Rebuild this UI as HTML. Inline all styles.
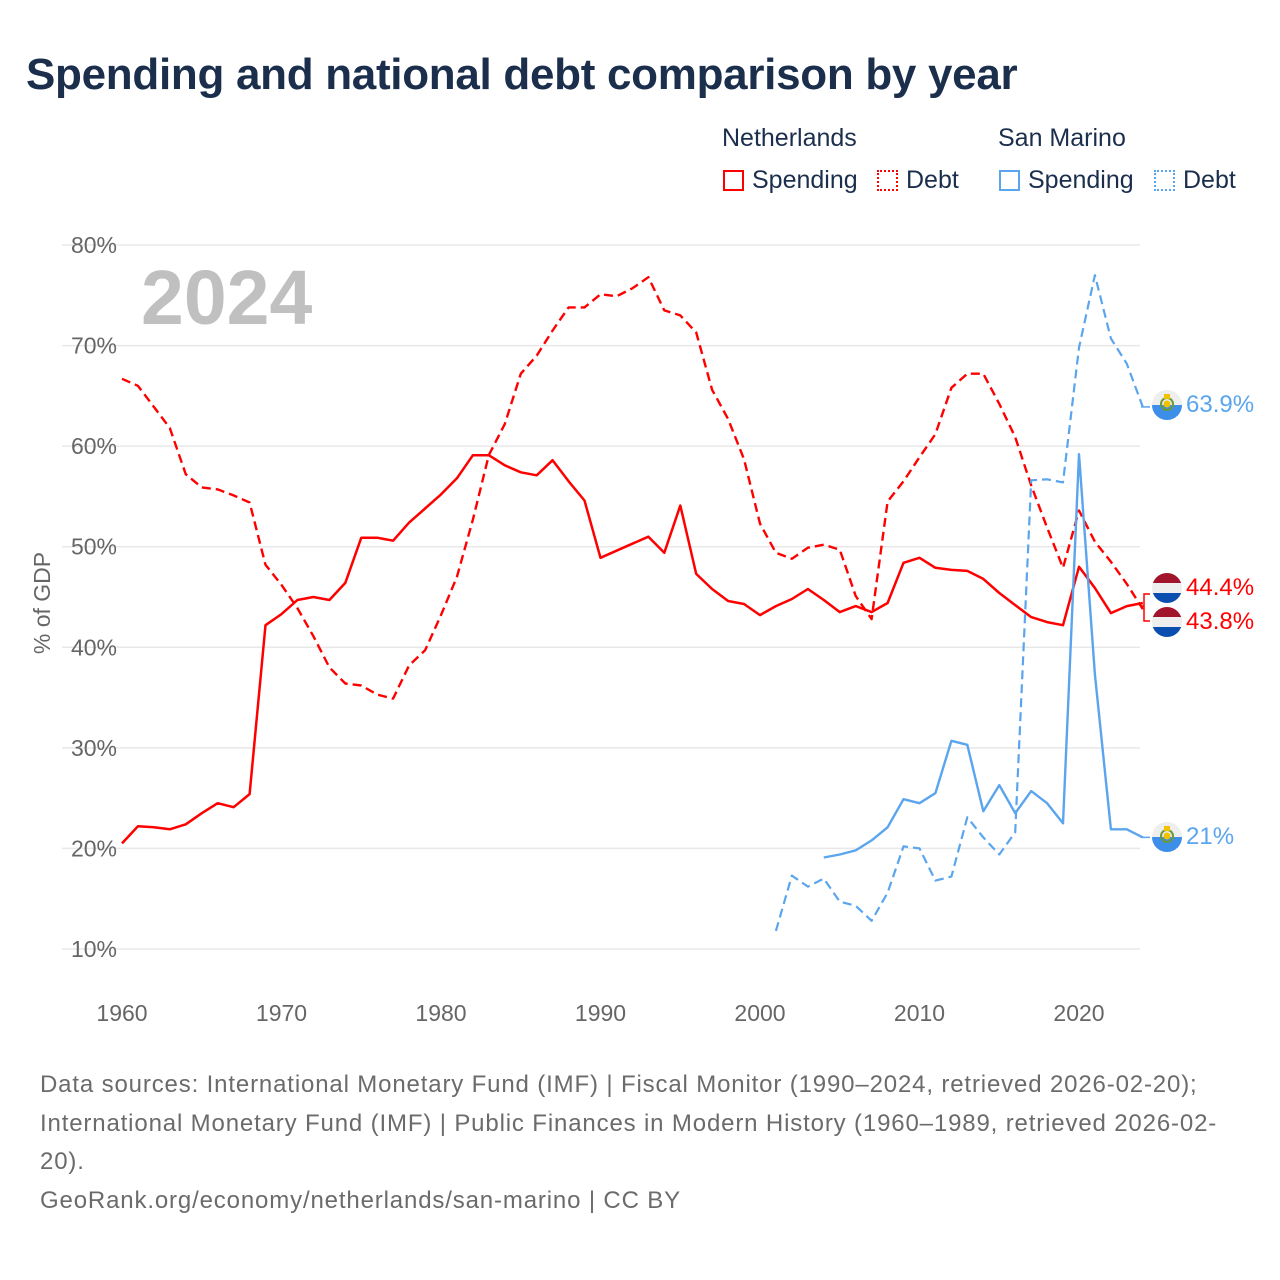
<!DOCTYPE html>
<html><head><meta charset="utf-8">
<style>
body{margin:0;background:#fff;width:1280px;height:1280px;overflow:hidden;font-family:"Liberation Sans",sans-serif}
#title{position:absolute;left:26px;top:50px;font-size:44px;font-weight:bold;color:#1b2f4d;letter-spacing:-0.3px}
.lg{position:absolute;font-size:25px;color:#1b2f4d}
.sw{position:absolute;width:21px;height:21px;box-sizing:border-box}
#foot{position:absolute;left:40px;top:1066px;font-size:24px;letter-spacing:0.85px;line-height:38.7px;color:#6b6b6b;white-space:nowrap}
</style></head><body>
<div id="title">Spending and national debt comparison by year</div>
<div class="lg" style="left:722px;top:124px">Netherlands</div>
<div class="lg" style="left:998px;top:124px">San Marino</div>
<div class="sw" style="left:723px;top:170px;border:2px solid #f00"></div>
<div class="lg" style="left:752px;top:166px">Spending</div>
<div class="sw" style="left:877px;top:170px;border:2px dotted #f00"></div>
<div class="lg" style="left:906px;top:166px">Debt</div>
<div class="sw" style="left:999px;top:170px;border:2px solid #5aa5ee"></div>
<div class="lg" style="left:1028px;top:166px">Spending</div>
<div class="sw" style="left:1154px;top:170px;border:2px dotted #5aa5ee"></div>
<div class="lg" style="left:1183px;top:166px">Debt</div>
<svg id="chart" width="1280" height="1280" style="position:absolute;left:0;top:0"></svg>
<div id="foot">Data sources: International Monetary Fund (IMF) | Fiscal Monitor (1990–2024, retrieved 2026-02-20);<br>International Monetary Fund (IMF) | Public Finances in Modern History (1960–1989, retrieved 2026-02-<br>20).<br>GeoRank.org/economy/netherlands/san-marino | CC BY</div>
<script>
const yTicks=[10,20,30,40,50,60,70,80];
const xTicks=[1960,1970,1980,1990,2000,2010,2020];
const nlStart=1960;
const nlSpending=[20.5,22.2,22.1,21.9,22.4,23.5,24.5,24.1,25.4,42.2,43.3,44.7,45.0,44.7,46.4,50.9,50.9,50.6,52.4,53.8,55.2,56.8,59.1,59.1,58.1,57.4,57.1,58.6,56.5,54.6,48.9,49.6,50.3,51.0,49.4,54.1,47.3,45.8,44.6,44.3,43.2,44.1,44.8,45.8,44.7,43.5,44.1,43.5,44.4,48.4,48.9,47.9,47.7,47.6,46.8,45.4,44.2,43.0,42.5,42.2,48.0,45.9,43.4,44.1,44.4];
const nlDebt=[66.7,66.0,63.9,61.8,57.2,55.9,55.7,55.1,54.4,48.2,46.2,43.9,41.1,38.0,36.4,36.2,35.3,34.9,38.2,39.7,43.2,47.0,52.7,59.1,62.2,67.2,69.0,71.5,73.8,73.8,75.1,74.9,75.7,76.8,73.5,73.0,71.3,65.6,62.7,58.7,52.3,49.4,48.8,49.9,50.2,49.7,45.1,42.8,54.5,56.5,58.9,61.2,65.8,67.2,67.2,64.2,60.9,56.1,51.9,47.9,53.6,50.5,48.5,46.3,43.8];
const smSpendingStart=2004;
const smSpending=[19.1,19.4,19.8,20.8,22.1,24.9,24.5,25.5,30.7,30.3,23.7,26.3,23.5,25.7,24.5,22.5,59.2,37.3,21.9,21.9,21.1];
const smDebtStart=2001;
const smDebt=[11.8,17.3,16.2,17.0,14.7,14.3,12.8,15.6,20.2,20.0,16.8,17.2,23.1,21.1,19.4,21.6,56.6,56.7,56.4,69.8,77.0,70.7,68.2,63.9];
const endLabels=["63.9%","21%","44.4%","43.8%"];

const NS="http://www.w3.org/2000/svg";
const svg=document.getElementById('chart');
const X=y=>122+(y-1960)*15.95;
const Y=v=>949-(v-10)*10.057;
function el(t,a,p){const e=document.createElementNS(NS,t);for(const k in a)e.setAttribute(k,a[k]);(p||svg).appendChild(e);return e;}
yTicks.forEach(v=>{
  const g=el('line',{x1:62,x2:1140,y1:Y(v),y2:Y(v),stroke:'#e8e8e8','stroke-width':1.5});
  
  
  const t=el('text',{x:117,y:Y(v)+8,'text-anchor':'end','font-size':23,fill:'#666','font-family':'Liberation Sans, sans-serif'});
  t.textContent=v+'%';
  
  
});
xTicks.forEach(yr=>{
  const t=el('text',{x:X(yr),y:1021,'text-anchor':'middle','font-size':23,fill:'#666','font-family':'Liberation Sans, sans-serif'});
  t.textContent=yr;
  
  
});
const yt=el('text',{x:0,y:0,transform:'translate(50,603) rotate(-90)','text-anchor':'middle','font-size':23,fill:'#666','font-family':'Liberation Sans, sans-serif'});
yt.textContent='% of GDP';


const yr=el('text',{x:141,y:324,'font-size':77,'font-weight':'bold',fill:'#c0c0c0','font-family':'Liberation Sans, sans-serif'});
yr.textContent='2024';


function line(arr,start,color,dash,w,name){
  const d=arr.map((v,i)=>(i?'L':'M')+X(start+i).toFixed(1)+','+Y(v).toFixed(1)).join('');
  const p=el('path',{d:d,fill:'none',stroke:color,'stroke-width':w,'stroke-linejoin':'round'});
  if(dash)p.setAttribute('stroke-dasharray',dash);
  
  
}
line(nlDebt,nlStart,'#ff0000','9,5',2.4,'nl-debt-line');
line(nlSpending,nlStart,'#ff0000',null,2.5,'nl-spending-line');
line(smDebt,smDebtStart,'#5aa5ee','9,5',2.2,'sm-debt-line');
line(smSpending,smSpendingStart,'#5aa5ee',null,2.4,'sm-spending-line');
function smFlag(cy,name){
  const g=el('g',{});
  
  
  el('circle',{cx:1167,cy:cy,r:15,fill:'#eeeeee'},g);
  el('path',{d:`M1152,${cy}A15,15 0 0 0 1182,${cy}Z`,fill:'#3d8ee8'},g);
  el('circle',{cx:1167,cy:cy-1,r:6,fill:'none',stroke:'#6a9a3a','stroke-width':2},g);
  el('circle',{cx:1167,cy:cy-1,r:3.5,fill:'#f2c200'},g);
  el('rect',{x:1164,y:cy-11,width:6,height:5,fill:'#f2c200'},g);
}
function nlFlag(cy,name){
  const g=el('g',{});
  
  
  el('clipPath',{id:'c'+cy},g);
  const c=g.lastChild;el('circle',{cx:1167,cy:cy,r:15},c);
  el('rect',{x:1152,y:cy-15,width:30,height:10,fill:'#a2132c','clip-path':`url(#c${cy})`},g);
  el('rect',{x:1152,y:cy-5,width:30,height:10,fill:'#eeeeee','clip-path':`url(#c${cy})`},g);
  el('rect',{x:1152,y:cy+5,width:30,height:10,fill:'#0a4fb0','clip-path':`url(#c${cy})`},g);
}
el('path',{d:`M1141,${Y(63.9)}H1150`,stroke:'#5aa5ee','stroke-width':1.5,fill:'none'});
el('path',{d:`M1141,${Y(21.1)}H1150`,stroke:'#5aa5ee','stroke-width':1.5,fill:'none'});
el('path',{d:`M1141,${Y(44.1)}H1144V594H1150M1144,${Y(44.1)}V621H1150`,stroke:'#ff0000','stroke-width':1.5,fill:'none'});
smFlag(405,'sm-flag-debt');smFlag(837,'sm-flag-spending');nlFlag(588,'nl-flag-spending');nlFlag(622,'nl-flag-debt');
const ly=[404,836,587,621],lc=['#5aa5ee','#5aa5ee','#ff0000','#ff0000'];
endLabels.forEach((s,i)=>{
  const t=el('text',{x:1186,y:ly[i]+8,'font-size':24,fill:lc[i],'font-family':'Liberation Sans, sans-serif'});
  t.textContent=s;
  
  
});
</script>
</body></html>
